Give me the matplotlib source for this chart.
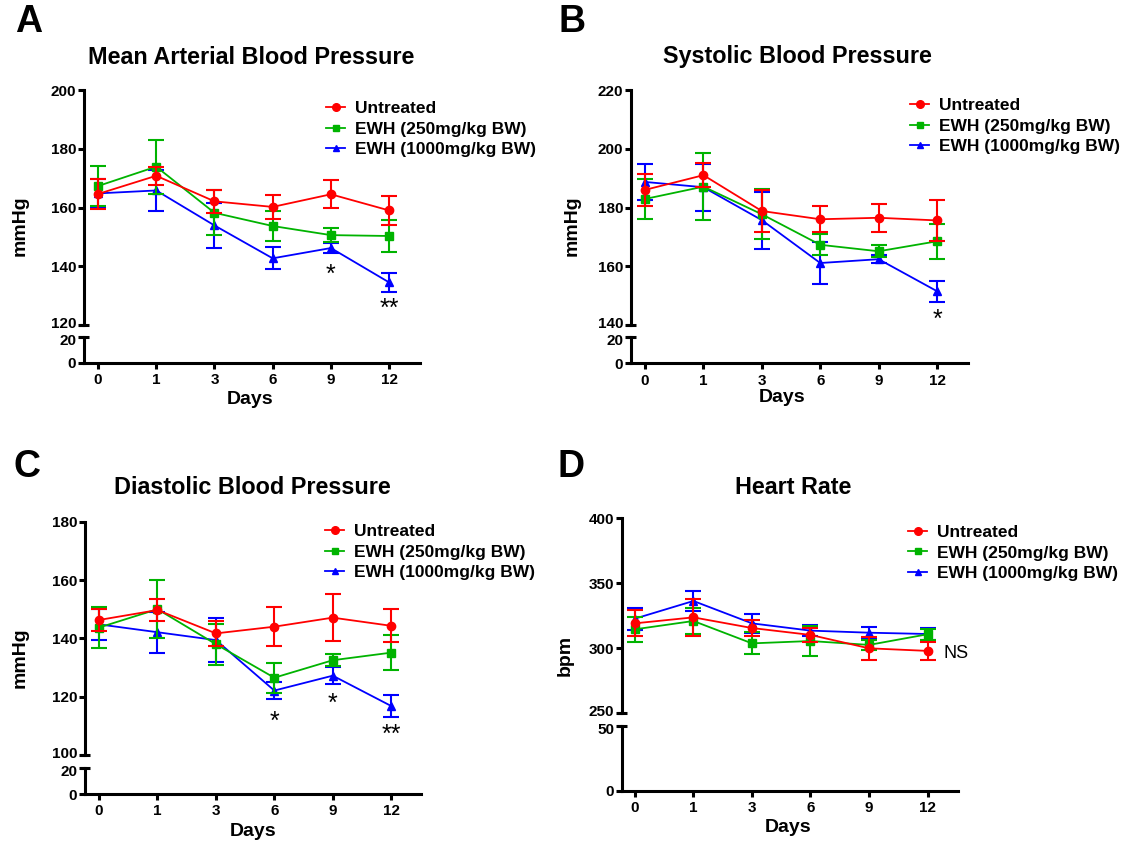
import matplotlib
matplotlib.use('Agg')
import matplotlib.pyplot as plt
from matplotlib.lines import Line2D
from matplotlib.transforms import ScaledTranslation

plt.rcParams['font.family'] = ['Liberation Sans', 'DejaVu Sans']
plt.rcParams['font.weight'] = 'bold'

# ---------------- data ----------------
days = ['0', '1', '3', '6', '9', '12']
series_labels = ['Untreated', 'EWH (250mg/kg BW)', 'EWH (1000mg/kg BW)']

# A: Mean arterial blood pressure (mmHg)
map_untreated = [164.6, 170.8, 162.1, 160.2, 164.5, 159.0]
map_untreated_err = [5.0, 3.0, 4.0, 4.0, 4.8, 5.0]
map_ewh250 = [167.3, 173.9, 158.2, 153.7, 150.6, 150.3]
map_ewh250_err = [6.7, 9.2, 7.7, 5.0, 2.5, 5.3]
map_ewh1000 = [164.8, 165.8, 153.9, 142.7, 146.2, 134.5]
map_ewh1000_err = [5.0, 7.0, 7.7, 3.7, 1.8, 3.2]

# B: Systolic blood pressure (mmHg)
sbp_untreated = [186.0, 191.0, 178.8, 176.0, 176.5, 175.6]
sbp_untreated_err = [5.4, 4.0, 7.3, 4.5, 4.8, 6.9]
sbp_ewh250 = [182.9, 187.1, 177.7, 167.3, 165.1, 168.5]
sbp_ewh250_err = [6.9, 11.5, 8.5, 3.6, 2.0, 6.0]
sbp_ewh1000 = [188.7, 186.9, 175.7, 161.1, 162.4, 151.5]
sbp_ewh1000_err = [6.0, 8.0, 9.7, 7.0, 1.3, 3.5]

# C: Diastolic blood pressure (mmHg)
dbp_untreated = [146.3, 149.7, 141.7, 144.0, 147.1, 144.3]
dbp_untreated_err = [3.9, 3.9, 4.3, 6.7, 8.0, 5.7]
dbp_ewh250 = [143.7, 150.0, 138.0, 126.5, 132.5, 135.1]
dbp_ewh250_err = [7.0, 10.0, 7.0, 5.2, 2.1, 6.0]
dbp_ewh1000 = [144.8, 142.1, 139.4, 122.1, 127.2, 116.8]
dbp_ewh1000_err = [5.3, 7.0, 7.6, 2.8, 3.0, 3.8]

# D: Heart rate (bpm)
hr_untreated = [319.2, 323.8, 315.6, 310.3, 300.0, 298.0]
hr_untreated_err = [10.0, 14.5, 6.0, 5.5, 9.0, 7.0]
hr_ewh250 = [314.6, 321.0, 303.8, 305.6, 302.6, 310.8]
hr_ewh250_err = [9.6, 10.0, 8.5, 11.9, 3.8, 4.4]
hr_ewh1000 = [322.8, 336.4, 319.2, 313.6, 312.0, 311.0]
hr_ewh1000_err = [8.5, 8.0, 7.5, 4.0, 4.2, 4.8]

titles = ['Mean Arterial Blood Pressure', 'Systolic Blood Pressure',
          'Diastolic Blood Pressure', 'Heart Rate']
panel_letters = ['A', 'B', 'C', 'D']
ylabels = ['mmHg', 'mmHg', 'mmHg', 'bpm']

top_ticks = [[120, 140, 160, 180, 200], [140, 160, 180, 200, 220],
             [100, 120, 140, 160, 180], [250, 300, 350, 400]]
bottom_ticks = [[0, 20], [0, 20], [0, 20], [0, 50]]

# significance annotations: (panel, x index, y value, text)
annotations = [(0, 4, 137.0, '*'), (0, 5, 125.5, '**'),
               (1, 5, 141.8, '*'),
               (2, 3, 111.4, '*'), (2, 4, 117.5, '*'), (2, 5, 106.8, '**')]
ns_label = 'NS'
ns_pos = (5.27, 296.0)

# ---------------- style / layout ----------------
colors = ['#ff0000', '#00b300', '#0000ff']
markers = ['o', 's', '^']
msizes = [6, 5.5, 5.5]

W, H = 1131, 841
fig = plt.figure(figsize=(W / 100, H / 100), dpi=100)


def rect(x0, x1, ytop, ybot):
    return [x0 / W, 1 - ybot / H, (x1 - x0) / W, (ybot - ytop) / H]


# per panel: x0, x1 (px), top segment (ytop, ybot), bottom segment (ytop, ybot), xlim
layout = [
    dict(x0=84, x1=420, top=(90, 325), bot=(336.7, 362.7), xlim=(-0.24, 5.53)),
    dict(x0=631, x1=968, top=(90, 325), bot=(336.7, 363.3), xlim=(-0.24, 5.53)),
    dict(x0=85, x1=421, top=(521.7, 755), bot=(767.7, 794), xlim=(-0.24, 5.51)),
    dict(x0=622, x1=958, top=(518.3, 713.3), bot=(726, 791), xlim=(-0.22, 5.52)),
]
legend_anchor = [(326, 129), (910, 126), (325, 552), (908, 553)]
title_pos = [(251, 57), (797, 57), (252, 488), (793, 488)]
letter_pos = [(29, 22), (572, 22), (27, 467), (571, 467)]
ylabel_pos = [(20, 226), (572, 226), (20, 658), (565, 655)]
xlabel_pos = [(250, 399), (782, 398), (253, 831), (788, 827)]

data = [
    [(map_untreated, map_untreated_err), (map_ewh250, map_ewh250_err), (map_ewh1000, map_ewh1000_err)],
    [(sbp_untreated, sbp_untreated_err), (sbp_ewh250, sbp_ewh250_err), (sbp_ewh1000, sbp_ewh1000_err)],
    [(dbp_untreated, dbp_untreated_err), (dbp_ewh250, dbp_ewh250_err), (dbp_ewh1000, dbp_ewh1000_err)],
    [(hr_untreated, hr_untreated_err), (hr_ewh250, hr_ewh250_err), (hr_ewh1000, hr_ewh1000_err)],
]

x = list(range(len(days)))
SPW = 2.2
TICKFS = 11

for p in range(4):
    L = layout[p]
    ax_t = fig.add_axes(rect(L['x0'], L['x1'], *L['top']))
    ax_b = fig.add_axes(rect(L['x0'], L['x1'], *L['bot']))
    for ax in (ax_t, ax_b):
        ax.set_xlim(*L['xlim'])
        ax.patch.set_alpha(0)
        for s in ('top', 'right'):
            ax.spines[s].set_visible(False)
        ax.spines['left'].set_linewidth(SPW)
        ax.spines['bottom'].set_linewidth(SPW)
        ax.tick_params(axis='y', length=4, width=SPW, labelsize=TICKFS, pad=1.5)
    ax_t.spines['bottom'].set_visible(False)
    ax_t.tick_params(axis='x', bottom=False, labelbottom=False)
    ax_b.set_xticks(x)
    ax_b.set_xticklabels(days)
    ax_b.tick_params(axis='x', length=4.5, width=SPW, labelsize=TICKFS, pad=3)

    tt = top_ticks[p]
    ax_t.set_ylim(tt[0], tt[-1])
    ax_t.set_yticks(tt)
    bt = bottom_ticks[p]
    ax_b.set_ylim(bt[0], bt[-1])
    ax_b.set_yticks(bt)

    # nudge the two labels next to the axis break apart slightly
    lbl_low = ax_t.get_yticklabels()[0]
    lbl_low.set_transform(lbl_low.get_transform() + ScaledTranslation(0, 2.5 / 100, fig.dpi_scale_trans))
    lbl_high = ax_b.get_yticklabels()[-1]
    lbl_high.set_transform(lbl_high.get_transform() + ScaledTranslation(0, -2.5 / 100, fig.dpi_scale_trans))

    # break marks
    ax_t.plot([0], [0], marker='_', ms=7, mew=SPW, color='k',
              transform=ax_t.transAxes, clip_on=False)
    ax_b.plot([0], [1], marker='_', ms=7, mew=SPW, color='k',
              transform=ax_b.transAxes, clip_on=False)

    order = [2, 1, 0]
    for i in order:
        vals, errs = data[p][i]
        ax_t.errorbar(x, vals, yerr=errs, color=colors[i], marker=markers[i],
                      ms=msizes[i], lw=1.3, elinewidth=1.5, capsize=6,
                      capthick=1.5, zorder=3 + (2 - i))

    handles = [Line2D([], [], color=colors[i], marker=markers[i], ms=msizes[i] - 0.5, lw=1.3)
               for i in range(3)]
    lx, ly = legend_anchor[p]
    ax_t.legend(handles, series_labels, loc='center left',
                bbox_to_anchor=(lx / W, 1 - ly / H), bbox_transform=fig.transFigure,
                frameon=False, fontsize=12.5, handlelength=1.1, handletextpad=0.55,
                labelspacing=0.3, borderpad=0, borderaxespad=0)

    for (pp, xi, yv, txt) in annotations:
        if pp == p:
            ax_t.text(x[xi], yv, txt, ha='center', va='center', fontsize=18,
                      fontweight='normal')
    if p == 3:
        ax_t.text(ns_pos[0], ns_pos[1], ns_label, ha='left', va='center',
                  fontsize=13, fontweight='normal')

    tx, ty = title_pos[p]
    fig.text(tx / W, 1 - ty / H, titles[p], ha='center', va='center', fontsize=16.8)
    lx, ly = letter_pos[p]
    fig.text(lx / W, 1 - ly / H, panel_letters[p], ha='center', va='center', fontsize=27)
    yx, yy = ylabel_pos[p]
    fig.text(yx / W, 1 - yy / H, ylabels[p], ha='center', va='center', rotation=90, fontsize=14)
    xx, xy = xlabel_pos[p]
    fig.text(xx / W, 1 - xy / H, 'Days', ha='center', va='center', fontsize=14)

fig.savefig('out.png', dpi=100)
